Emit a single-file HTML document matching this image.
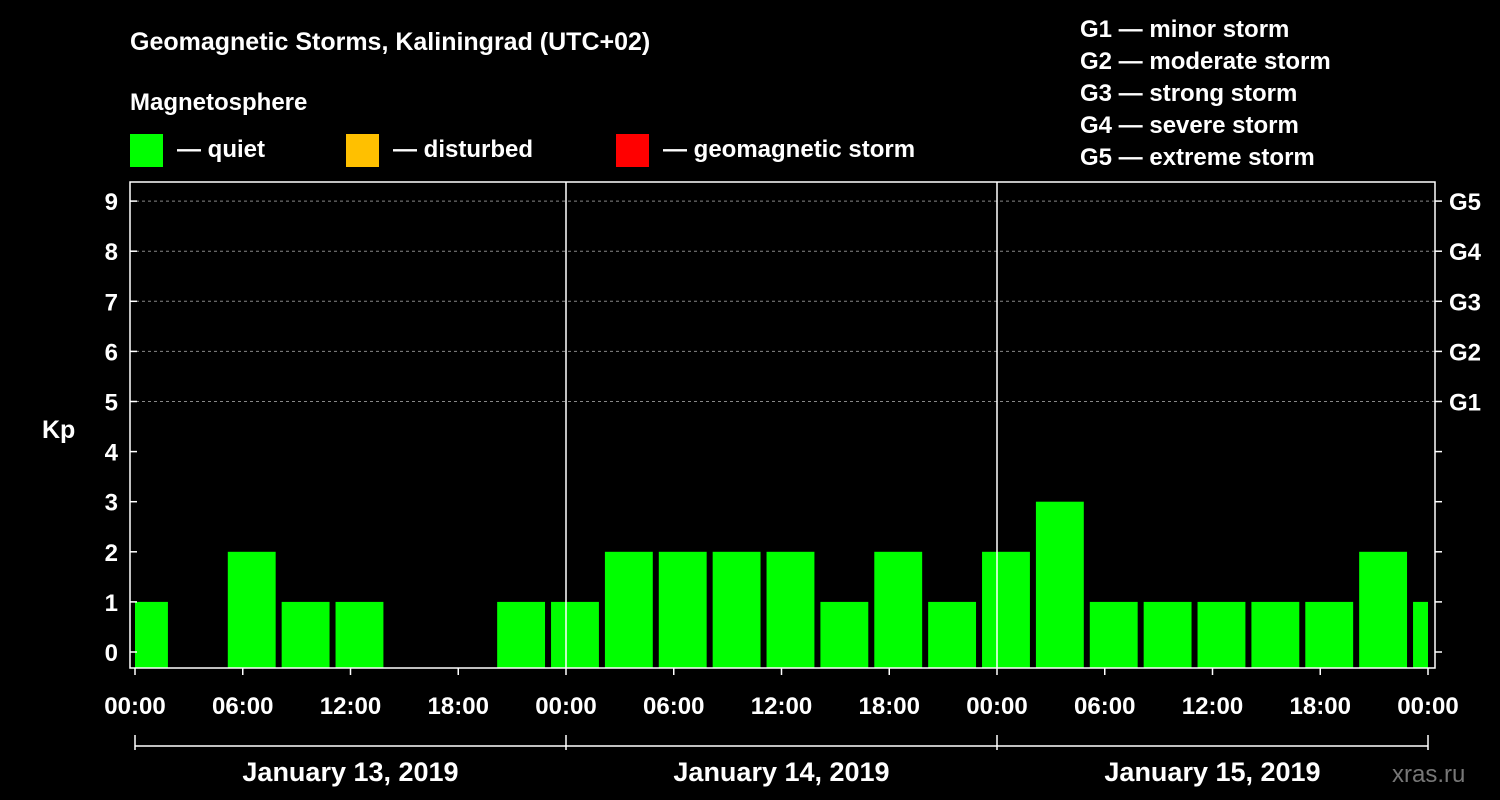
<!DOCTYPE html>
<html><head><meta charset="utf-8"><style>
html,body{margin:0;padding:0;background:#000;}
svg{display:block;font-family:"Liberation Sans",Arial,sans-serif;font-weight:bold;}
</style></head><body>
<svg id="chart" width="1500" height="800" viewBox="0 0 1500 800" xmlns="http://www.w3.org/2000/svg">
<rect width="1500" height="800" fill="#000"/>
<text x="130" y="50" fill="#fff" font-size="25">Geomagnetic Storms, Kaliningrad (UTC+02)</text>
<text x="130" y="110" fill="#fff" font-size="24">Magnetosphere</text>
<g><rect x="130" y="134" width="33" height="33" fill="#00ff00"/><text x="177" y="157" fill="#fff" font-size="24">— quiet</text></g>
<g><rect x="346" y="134" width="33" height="33" fill="#ffc000"/><text x="393" y="157" fill="#fff" font-size="24">— disturbed</text></g>
<g><rect x="616" y="134" width="33" height="33" fill="#ff0000"/><text x="663" y="157" fill="#fff" font-size="24">— geomagnetic storm</text></g>
<g fill="#fff" font-size="24">
<text x="1080" y="37">G1 — minor storm</text>
<text x="1080" y="69">G2 — moderate storm</text>
<text x="1080" y="101">G3 — strong storm</text>
<text x="1080" y="133">G4 — severe storm</text>
<text x="1080" y="165">G5 — extreme storm</text>
</g>
<text x="42" y="438" fill="#fff" font-size="25">Kp</text>
<g id="grid"></g>
<g id="bars"></g>
<g id="axes"></g>
<text x="1392" y="782" fill="#777" font-size="24" font-weight="normal">xras.ru</text>
</svg>
<script>
const kpValues = [1,0,2,1,1,0,0,1,1,2,2,2,2,1,2,1,2,3,1,1,1,1,1,2,1];
const startHour = -1;
const stepHours = 3;
const yTicks = [0,1,2,3,4,5,6,7,8,9];
const gLevels = ["G1","G2","G3","G4","G5"];
const xTickLabels = ["00:00","06:00","12:00","18:00","00:00","06:00","12:00","18:00","00:00","06:00","12:00","18:00","00:00"];
const dayLabels = ["January 13, 2019","January 14, 2019","January 15, 2019"];

const NS="http://www.w3.org/2000/svg";
const L=130,R=1435,T=182,B=668,X0=135,X1=1428,totalH=72;
const x=h=>X0+(h/totalH)*(X1-X0);
const y=v=>652-v*50.1;
function mk(tag,attrs,parent,text){const e=document.createElementNS(NS,tag);for(const k in attrs)e.setAttribute(k,attrs[k]);if(text!==undefined)e.textContent=text;parent.appendChild(e);return e;}
const grid=document.getElementById('grid'),bars=document.getElementById('bars'),axes=document.getElementById('axes');

// gridlines G levels
gLevels.forEach((g,i)=>{const v=5+i;
 const ln=mk('line',{x1:L,x2:R,y1:y(v),y2:y(v),stroke:'#888','stroke-dasharray':'3,3','stroke-width':1},grid);
 
 
 const t=mk('text',{x:1449,y:y(v)+9,fill:'#fff','font-size':24},axes,g);
 
 
});
// bars
kpValues.forEach((v,i)=>{if(v<=0)return;
 let h0=startHour+i*stepHours,h1=h0+stepHours;
 let a=x(h0)+3,b=x(h1)-3;
 if(h0<0)a=x(0);
 if(h1>totalH)b=x(totalH);
 const r=mk('rect',{x:a,y:y(v),width:b-a,height:B-y(v),fill:'#00ff00'},bars);
 
 
});
// frame
const fr=mk('rect',{x:L,y:T,width:R-L,height:B-T,fill:'none',stroke:'#fff','stroke-width':1.5},axes);


// day separators
[24,48].forEach(h=>{const l=mk('line',{x1:x(h),x2:x(h),y1:T,y2:B,stroke:'#fff','stroke-width':1.5},axes);
 
 });
// y ticks
yTicks.forEach(v=>{
 mk('line',{x1:L,x2:L+7,y1:y(v),y2:y(v),stroke:'#fff','stroke-width':1.5},axes);
 mk('line',{x1:R,x2:R+7,y1:y(v),y2:y(v),stroke:'#fff','stroke-width':1.5},axes);
 const t=mk('text',{x:L-12,y:y(v)+9,fill:'#fff','font-size':24,'text-anchor':'end'},axes,String(v));
 
 
});
// x ticks
xTickLabels.forEach((s,i)=>{const h=i*6;
 mk('line',{x1:x(h),x2:x(h),y1:B,y2:B+7,stroke:'#fff','stroke-width':1.5},axes);
 const t=mk('text',{x:x(h),y:714,fill:'#fff','font-size':24,'text-anchor':'middle'},axes,s);
 
 
});
// day bracket
const br=mk('line',{x1:x(0),x2:x(72),y1:746,y2:746,stroke:'#fff','stroke-width':1.5},axes);


[0,24,48,72].forEach(h=>mk('line',{x1:x(h),x2:x(h),y1:735,y2:750,stroke:'#fff','stroke-width':1.5},axes));
dayLabels.forEach((d,i)=>{const t=mk('text',{x:x(i*24+12),y:781,fill:'#fff','font-size':27,'text-anchor':'middle'},axes,d);
 
 });
</script>
</body></html>
